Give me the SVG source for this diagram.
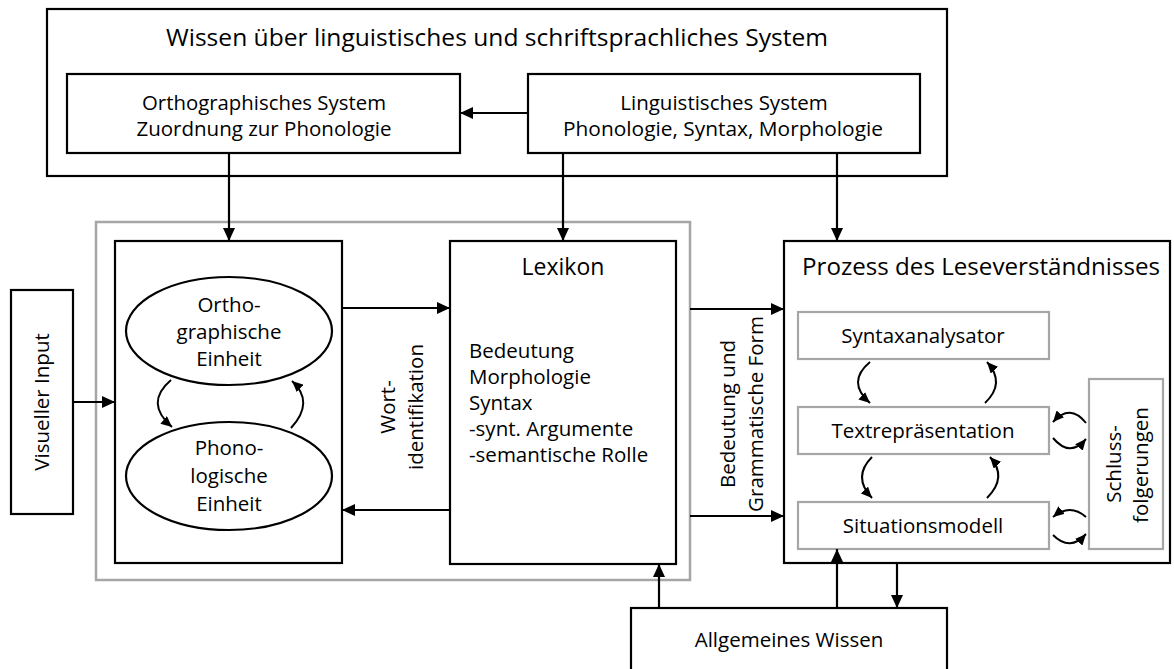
<svg xmlns="http://www.w3.org/2000/svg" width="1174" height="669" viewBox="0 0 1174 669">
<defs>
<style>
.b{fill:#fff;stroke:#000;stroke-width:2.2}
.g{fill:none;stroke:#a6a6a6;stroke-width:2.5}
.gb{fill:#fff;stroke:#a6a6a6;stroke-width:2.2}
.t{font-family:"Open Sans","Liberation Sans",sans-serif;font-size:20.5px;fill:#000}
.tl{font-family:"Open Sans","Liberation Sans",sans-serif;font-size:23px;fill:#000}
.c{text-anchor:middle}
.ln{fill:none;stroke:#000;stroke-width:2.2}
.cv{fill:none;stroke:#000;stroke-width:2}
</style>
<marker id="ah" viewBox="0 0 13 12" refX="13" refY="6" markerWidth="13" markerHeight="12" markerUnits="userSpaceOnUse" orient="auto"><path d="M0,0 L13,6 L0,12 z" fill="#000"/></marker>
<marker id="as" viewBox="0 0 11 10" refX="11" refY="5" markerWidth="11" markerHeight="10" markerUnits="userSpaceOnUse" orient="auto"><path d="M0,0 L11,5 L0,10 z" fill="#000"/></marker>
</defs>

<g id="wissen-system">
<rect class="b" x="47" y="9" width="900" height="167"/>
<text class="tl c" x="497" y="46" textLength="662" lengthAdjust="spacingAndGlyphs">Wissen über linguistisches und schriftsprachliches System</text>
</g>
<g id="orthographisches-system">
<rect class="b" x="67" y="74" width="393" height="79"/>
<text class="t c" x="264" y="110" textLength="244" lengthAdjust="spacingAndGlyphs">Orthographisches System</text>
<text class="t c" x="264" y="136">Zuordnung zur Phonologie</text>
</g>
<g id="linguistisches-system">
<rect class="b" x="528" y="74" width="392" height="79"/>
<text class="t c" x="724" y="110">Linguistisches System</text>
<text class="t c" x="723" y="136" textLength="320" lengthAdjust="spacingAndGlyphs">Phonologie, Syntax, Morphologie</text>
</g>

<g id="worterkennung">
<rect class="g" x="96" y="222" width="594" height="358"/>
</g>
<g id="einheiten">
<rect class="b" x="115" y="241" width="227" height="322"/>
</g>
<g id="orthographische-einheit">
<ellipse class="b" cx="229" cy="331" rx="103" ry="54"/>
<text class="t c" x="229" y="312">Ortho-</text>
<text class="t c" x="229" y="339">graphische</text>
<text class="t c" x="229" y="366">Einheit</text>
</g>
<g id="phonologische-einheit">
<ellipse class="b" cx="229" cy="476" rx="103" ry="54"/>
<text class="t c" x="229" y="455">Phono-</text>
<text class="t c" x="229" y="483">logische</text>
<text class="t c" x="229" y="511">Einheit</text>
</g>
<g id="lexikon">
<rect class="b" x="450" y="241" width="226" height="323"/>
<text class="tl c" x="563" y="275">Lexikon</text>
<text class="t" x="469" y="358">Bedeutung</text>
<text class="t" x="469" y="384">Morphologie</text>
<text class="t" x="469" y="410">Syntax</text>
<text class="t" x="469" y="436">-synt. Argumente</text>
<text class="t" x="469" y="462">-semantische Rolle</text>
</g>
<g id="visueller-input">
<rect class="b" x="11" y="290" width="62" height="224"/>
<text class="t c" transform="translate(49,402) rotate(-90)">Visueller Input</text>
</g>
<g id="prozess">
<rect class="b" x="784" y="241" width="386" height="322"/>
<text class="tl c" x="981" y="275" textLength="358" lengthAdjust="spacingAndGlyphs">Prozess des Leseverständnisses</text>
</g>
<g id="syntaxanalysator">
<rect class="gb" x="798" y="312" width="251" height="47"/>
<text class="t c" x="923" y="343">Syntaxanalysator</text>
</g>
<g id="textrepraesentation">
<rect class="gb" x="798" y="407" width="251" height="47"/>
<text class="t c" x="923" y="438">Textrepräsentation</text>
</g>
<g id="situationsmodell">
<rect class="gb" x="798" y="502" width="251" height="47"/>
<text class="t c" x="923" y="533">Situationsmodell</text>
</g>
<g id="schlussfolgerungen">
<rect class="gb" x="1089" y="379" width="74" height="170"/>
<text class="t c" transform="translate(1121,464) rotate(-90)">Schluss-</text>
<text class="t c" transform="translate(1148,465) rotate(-90)">folgerungen</text>
</g>
<g id="allgemeines-wissen">
<rect class="b" x="631" y="608" width="316" height="70"/>
<text class="t c" x="789" y="647">Allgemeines Wissen</text>
</g>

<g id="connectors">
<line class="ln" x1="528" y1="113" x2="460" y2="113" marker-end="url(#ah)"/>
<line class="ln" x1="229" y1="153" x2="229" y2="241" marker-end="url(#ah)"/>
<line class="ln" x1="563" y1="153" x2="563" y2="241" marker-end="url(#ah)"/>
<line class="ln" x1="837" y1="153" x2="837" y2="241" marker-end="url(#ah)"/>
<line class="ln" x1="73" y1="402" x2="115" y2="402" marker-end="url(#ah)"/>
<line class="ln" x1="342" y1="308" x2="450" y2="308" marker-end="url(#ah)"/>
<line class="ln" x1="450" y1="510" x2="342" y2="510" marker-end="url(#ah)"/>
<text class="t c" transform="translate(395,407) rotate(-90)">Wort-</text>
<text class="t c" transform="translate(423,407) rotate(-90)">identifikation</text>
<line class="ln" x1="690" y1="309" x2="784" y2="309" marker-end="url(#ah)"/>
<line class="ln" x1="690" y1="516" x2="784" y2="516" marker-end="url(#ah)"/>
<text class="t c" transform="translate(735,414) rotate(-90)">Bedeutung und</text>
<text class="t c" transform="translate(763,414) rotate(-90)">Grammatische Form</text>
<line class="ln" x1="659" y1="608" x2="659" y2="564" marker-end="url(#ah)"/>
<line class="ln" x1="837" y1="608" x2="837" y2="549" marker-end="url(#ah)"/>
<line class="ln" x1="897" y1="564" x2="897" y2="608" marker-end="url(#ah)"/>
<path class="cv" d="M171,380 Q144,403 172,427" marker-end="url(#as)"/>
<path class="cv" d="M291,428 Q315,402 292,381" marker-end="url(#as)"/>
<path class="cv" d="M870,362 Q846,382 870,403" marker-end="url(#as)"/>
<path class="cv" d="M985,403 Q1006,383 987,362" marker-end="url(#as)"/>
<path class="cv" d="M872,457 Q852,477 872,498" marker-end="url(#as)"/>
<path class="cv" d="M987,498 Q1008,477 990,457" marker-end="url(#as)"/>
<path class="cv" d="M1086,423 Q1070,403 1053,422" marker-end="url(#as)"/>
<path class="cv" d="M1053,438 Q1070,458 1086,439" marker-end="url(#as)"/>
<path class="cv" d="M1086,517 Q1070,503 1053,517" marker-end="url(#as)"/>
<path class="cv" d="M1053,535 Q1070,552 1086,534" marker-end="url(#as)"/>
</g>
</svg>
